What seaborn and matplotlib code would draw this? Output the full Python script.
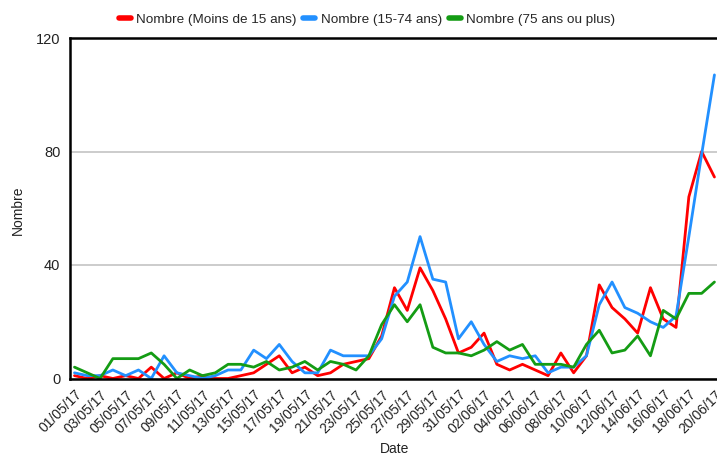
import pandas as pd
import numpy as np
import matplotlib.pyplot as plt
import seaborn as sns

# Daily counts, 01/05/17 -> 20/06/17
dates = pd.date_range("2017-05-01", "2017-06-20", freq="D")

moins_15 = [1, 0, 1, 0, 1, 0, 4, 0, 2, 0, 1, 0, 0, 1, 2, 5, 8, 2, 4, 1,
            2, 5, 6, 7, 15, 32, 24, 39, 31, 21, 9, 11, 16, 5, 3, 5, 3, 1, 9, 2,
            8, 33, 25, 21, 16, 32, 21, 18, 64, 80, 71]
de_15_74 = [2, 1, 1, 3, 1, 3, 0, 8, 2, 1, 0, 1, 3, 3, 10, 7, 12, 6, 2, 2,
            10, 8, 8, 8, 14, 29, 34, 50, 35, 34, 14, 20, 12, 6, 8, 7, 8, 2, 4, 4,
            8, 26, 34, 25, 23, 20, 18, 22, 50, 79, 107]
plus_75 = [4, 2, 0, 7, 7, 7, 9, 5, 0, 3, 1, 2, 5, 5, 4, 6, 3, 4, 6, 3,
           6, 5, 3, 8, 19, 26, 20, 26, 11, 9, 9, 8, 10, 13, 10, 12, 5, 5, 5, 4,
           12, 17, 9, 10, 15, 8, 24, 21, 30, 30, 34]

series_names = ["Nombre (Moins de 15 ans)", "Nombre (15-74 ans)", "Nombre (75 ans ou plus)"]
colors = ["#ff0000", "#2290ff", "#149c14"]

df = pd.DataFrame({
    "jour": np.arange(len(dates)),
    series_names[0]: moins_15,
    series_names[1]: de_15_74,
    series_names[2]: plus_75,
})
long_df = df.melt(id_vars="jour", var_name="serie", value_name="Nombre")

sns.set_style("white")
plt.rcParams["font.family"] = ["Liberation Sans", "DejaVu Sans"]

W, H = 717, 457
fig = plt.figure(figsize=(W / 100, H / 100), dpi=100)
ax = fig.add_axes([70 / W, (H - 378.5) / H, 647 / W, 340.5 / H])

sns.lineplot(data=long_df, x="jour", y="Nombre", hue="serie",
             palette=dict(zip(series_names, colors)), linewidth=2, ax=ax)

# axes limits / ticks
ax.set_xlim(-0.35, 50.2)
ax.set_ylim(0, 120)
ax.set_yticks([0, 40, 80, 120])
ax.set_xticks(np.arange(0, len(dates), 2))
ax.set_xticklabels(dates[::2].strftime("%d/%m/%y"), rotation=45,
                   ha="right", rotation_mode="anchor")
ax.tick_params(axis="x", direction="inout", length=7, width=1.2,
               labelsize=10, labelcolor="#222222", pad=3)
ax.tick_params(axis="y", direction="out", length=4, width=1,
               labelsize=10.5, labelcolor="#222222", pad=3)

ax.yaxis.grid(True, color="#c4c4c4", linewidth=1.2)
ax.set_axisbelow(True)

for side in ["left", "bottom", "top"]:
    ax.spines[side].set_color("black")
    ax.spines[side].set_linewidth(1.8)
ax.spines["right"].set_visible(False)

ax.set_xlabel("Date", fontsize=10, color="#222222")
ax.set_ylabel("Nombre", fontsize=10, color="#222222")
ax.xaxis.set_label_coords((395 - 70) / 647, (378.5 - 442) / 340.5)
ax.yaxis.set_label_coords((25 - 70) / 647, (378.5 - 210) / 340.5)

# legend on top
sns.move_legend(ax, "center", bbox_to_anchor=(367 / W, 1 - 20 / H),
                bbox_transform=fig.transFigure, ncol=3, frameon=False,
                title=None, fontsize=9.7, handlelength=0.9,
                handletextpad=0.4, columnspacing=0.5)
for line in ax.get_legend().get_lines():
    line.set_linewidth(4)

fig.savefig("out.png", dpi=100)
